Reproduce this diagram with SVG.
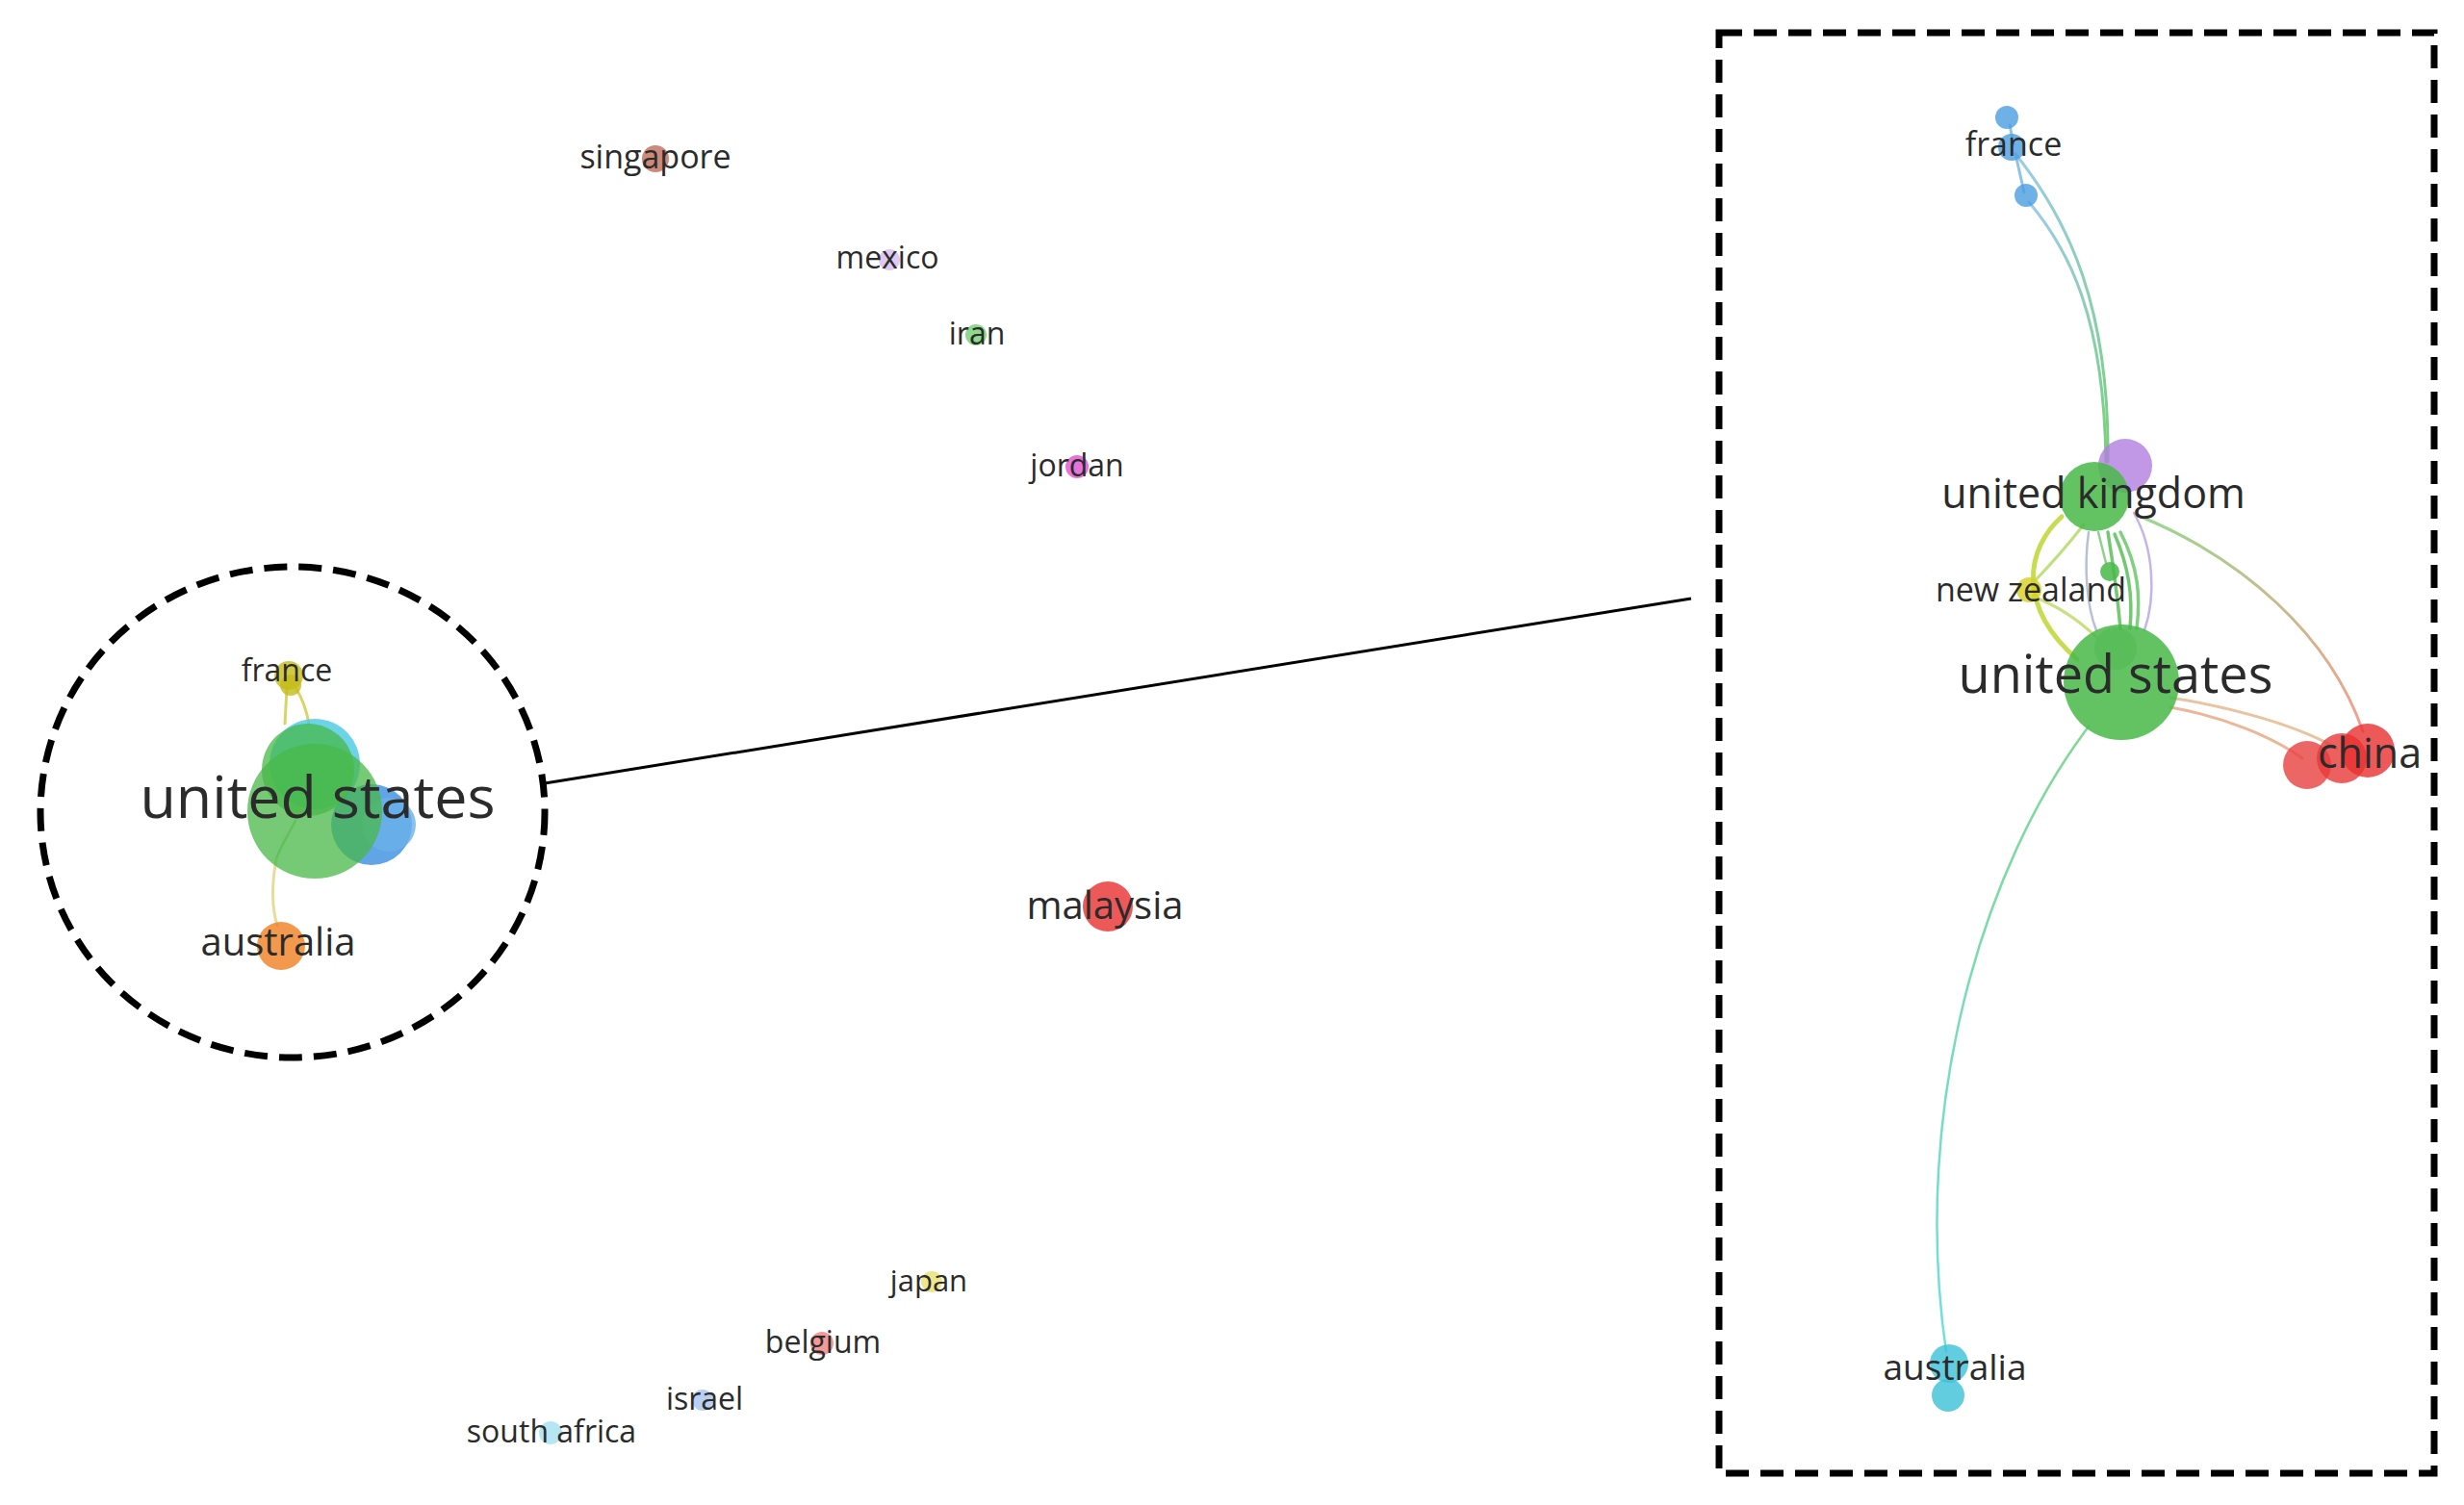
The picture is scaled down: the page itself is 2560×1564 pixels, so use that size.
<svg xmlns="http://www.w3.org/2000/svg" width="2560" height="1564" viewBox="0 0 2560 1564">
<style>
.lbl{font-family:"Open Sans","Noto Sans","Liberation Sans",sans-serif;fill:#2b2b2b;text-anchor:middle}
.n{fill-opacity:0.8}
.g{fill:#48b848;fill-opacity:0.75}
.e{fill:none;stroke-linecap:round}
.frame{fill:none;stroke:#000;stroke-width:7;stroke-dasharray:24 12}
</style>
<defs>
<linearGradient id="gFr1" gradientUnits="userSpaceOnUse" x1="2094" y1="160" x2="2190" y2="480"><stop offset="0" stop-color="#9ccce8"/><stop offset="1" stop-color="#78d078"/></linearGradient>
<linearGradient id="gFr2" gradientUnits="userSpaceOnUse" x1="2108" y1="210" x2="2188" y2="480"><stop offset="0" stop-color="#9ccce8"/><stop offset="1" stop-color="#78d078"/></linearGradient>
<linearGradient id="gUkCn" gradientUnits="userSpaceOnUse" x1="2222" y1="536" x2="2455" y2="760"><stop offset="0" stop-color="#98d890"/><stop offset="1" stop-color="#f4a08c"/></linearGradient>
<linearGradient id="gUsAu" gradientUnits="userSpaceOnUse" x1="2170" y1="755" x2="2022" y2="1405"><stop offset="0" stop-color="#80d890"/><stop offset="1" stop-color="#70e0e0"/></linearGradient>
</defs>
<rect width="2560" height="1564" fill="#fff"/>

<g id="connectors">
  <line x1="566" y1="814" x2="1757" y2="622" stroke="#000" stroke-width="3"/>
  <path class="e" d="M298,715 L296,752" stroke="#d8d468" stroke-width="3"/>
  <path class="e" d="M308,716 C314,726 318,736 321,752" stroke="#d8d468" stroke-width="3"/>
  <path class="e" d="M307,853 C298,870 290,882 287,893" stroke="#a8d890" stroke-width="2.5"/>
  <path class="e" d="M287,893 C282,920 283,945 288,962" stroke="#e6dd9c" stroke-width="3"/>
  <path class="e" d="M2088,130 L2092,150 M2094,160 L2103,200" stroke="#8cc4e8" stroke-width="3"/>
  <path class="e" d="M2094,160 C2150,230 2192,320 2190,480" stroke="url(#gFr1)" stroke-width="3"/>
  <path class="e" d="M2108,210 C2150,260 2186,330 2188,480" stroke="url(#gFr2)" stroke-width="3"/>
  <path class="e" d="M2222,536 C2330,580 2420,660 2455,760" stroke="url(#gUkCn)" stroke-width="3"/>
  <path class="e" d="M2255,735 C2310,745 2360,765 2392,788" stroke="#eab898" stroke-width="3"/>
  <path class="e" d="M2255,725 C2320,735 2390,755 2428,778" stroke="#e8c4a0" stroke-width="3"/>
  <path class="e" d="M2170,755 C2060,900 1985,1150 2022,1405" stroke="url(#gUsAu)" stroke-width="2.5"/>
  <path class="e" d="M2142,537 C2105,570 2095,630 2158,685" stroke="#c8dc50" stroke-width="5"/>
  <path class="e" d="M2110,608 C2135,582 2155,558 2165,545" stroke="#c0e080" stroke-width="3"/>
  <path class="e" d="M2112,620 C2140,630 2160,645 2178,662" stroke="#c8e080" stroke-width="3"/>
  <path class="e" d="M2190,553 C2196,590 2200,620 2203,653" stroke="#74c874" stroke-width="3.5"/>
  <path class="e" d="M2197,555 C2212,590 2216,620 2213,653" stroke="#74c874" stroke-width="3.5"/>
  <path class="e" d="M2203,553 C2222,590 2224,620 2220,653" stroke="#80d080" stroke-width="3.5"/>
  <path class="e" d="M2217,533 C2238,570 2240,620 2228,655" stroke="#c4b4e8" stroke-width="2.5"/>
  <path class="e" d="M2170,553 C2165,590 2168,630 2178,655" stroke="#b8c0d8" stroke-width="2.5"/>
  <path class="e" d="M2188,585 L2180,553" stroke="#90d090" stroke-width="2.5"/>
</g>

<g id="frames">
  <ellipse cx="304" cy="844" rx="262" ry="255" class="frame"/>
  <rect x="1786" y="34" width="743" height="1497" class="frame"/>
</g>

<g id="node-left-france"><circle class="n" cx="300" cy="702" r="15" fill="#c4bc18"/><circle class="n" cx="302" cy="712" r="11" fill="#c4bc18"/><text class="lbl" x="298" y="708" font-size="32">france</text></g>
<g id="node-left-us">
  <circle class="n" cx="327" cy="794" r="47" fill="#48c8e4"/>
  <circle class="n" cx="386" cy="857" r="42" fill="#3a8ee0"/>
  <circle class="n" cx="404" cy="857" r="28" fill="#6ab0ea" fill-opacity="0.6"/>
  <circle class="g" cx="327" cy="843" r="70"/>
  <circle class="g" cx="320" cy="800" r="48"/>
  <text class="lbl" x="330" y="850" font-size="61">united states</text>
</g>
<g id="node-left-australia"><circle class="n" cx="292" cy="983" r="25" fill="#f08020"/><text class="lbl" x="289" y="993" font-size="40">australia</text></g>

<g id="node-singapore"><circle class="n" cx="681" cy="165" r="14" fill="#c06c58"/><text class="lbl" x="681" y="175" font-size="34">singapore</text></g>
<g id="node-mexico"><circle class="n" cx="924" cy="270" r="11" fill="#d6bcf0"/><text class="lbl" x="922" y="279" font-size="32">mexico</text></g>
<g id="node-iran"><circle class="n" cx="1014" cy="348" r="11" fill="#70d070"/><text class="lbl" x="1015" y="358" font-size="32">iran</text></g>
<g id="node-jordan"><circle class="n" cx="1119" cy="485" r="12" fill="#e050d0"/><text class="lbl" x="1119" y="495" font-size="32">jordan</text></g>
<g id="node-malaysia"><circle class="n" cx="1151" cy="942" r="26" fill="#e83030"/><text class="lbl" x="1148" y="955" font-size="40">malaysia</text></g>
<g id="node-japan"><circle class="n" cx="968" cy="1332" r="11" fill="#e8e070"/><text class="lbl" x="965" y="1342" font-size="31">japan</text></g>
<g id="node-belgium"><circle class="n" cx="854" cy="1396" r="12" fill="#f08080"/><text class="lbl" x="855" y="1406" font-size="32">belgium</text></g>
<g id="node-israel"><circle class="n" cx="730" cy="1455" r="11" fill="#a8c4f0"/><text class="lbl" x="732" y="1465" font-size="32">israel</text></g>
<g id="node-south-africa"><circle class="n" cx="572" cy="1489" r="12" fill="#a4e0f0"/><text class="lbl" x="573" y="1499" font-size="32">south africa</text></g>

<g id="node-right-france">
  <circle class="n" cx="2085" cy="122" r="12" fill="#4a9ee0"/>
  <circle class="n" cx="2090" cy="153" r="14" fill="#4a9ee0"/>
  <circle class="n" cx="2105" cy="203" r="12" fill="#4a9ee0"/>
  <text class="lbl" x="2092" y="162" font-size="34">france</text>
</g>
<g id="node-right-uk">
  <circle class="n" cx="2208" cy="484" r="28" fill="#b07ee0"/>
  <circle class="g" cx="2176" cy="516" r="36" style="fill-opacity:0.85"/>
  <text class="lbl" x="2175" y="528" font-size="43">united kingdom</text>
</g>
<g id="node-right-small"><circle class="g" cx="2192" cy="594" r="10" style="fill-opacity:0.85"/></g>
<g id="node-right-nz"><circle class="n" cx="2108" cy="613" r="13" fill="#d8d020"/><text class="lbl" x="2110" y="625" font-size="34">new zealand</text></g>
<g id="node-right-us">
  <circle class="g" cx="2204" cy="709" r="60" style="fill-opacity:0.85"/>
  <circle cx="2198" cy="674" r="22" fill="#3aaa3a" fill-opacity="0.25"/>
  <text class="lbl" x="2198" y="720" font-size="54">united states</text>
</g>
<g id="node-right-china">
  <circle class="n" cx="2397" cy="795" r="25" fill="#e84040"/>
  <circle class="n" cx="2433" cy="788" r="26" fill="#e83838"/>
  <circle class="n" cx="2460" cy="780" r="28" fill="#e83030"/>
  <text class="lbl" x="2462" y="798" font-size="43">china</text>
</g>
<g id="node-right-australia">
  <circle class="n" cx="2025" cy="1417" r="20" fill="#3cc0d8"/>
  <circle class="n" cx="2024" cy="1450" r="17" fill="#3cc0d8"/>
  <text class="lbl" x="2031" y="1434" font-size="37">australia</text>
</g>
</svg>
